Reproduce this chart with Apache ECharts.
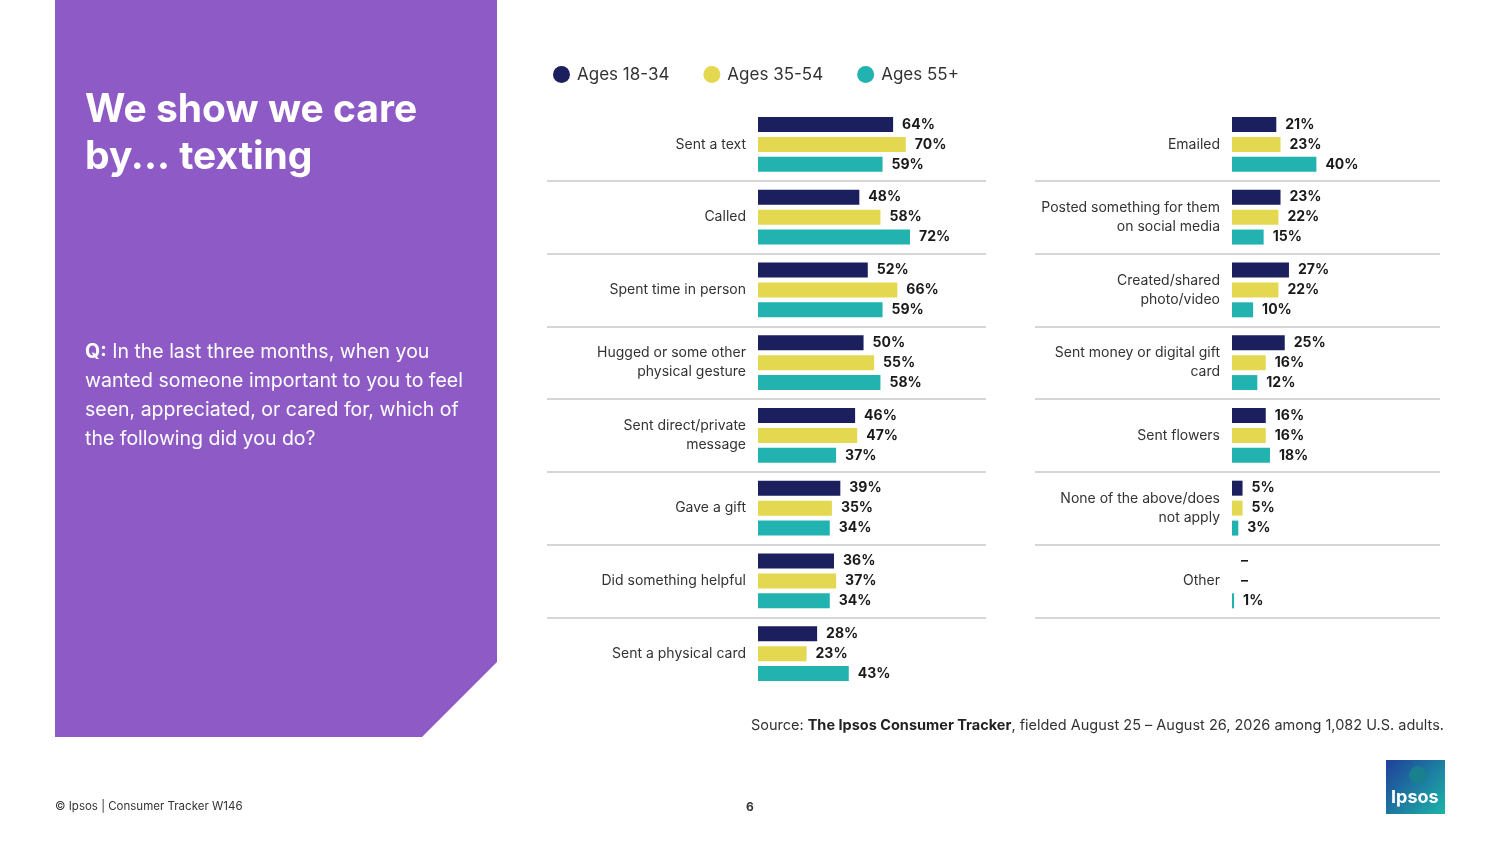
<!DOCTYPE html>
<html><head><meta charset="utf-8">
<script src="https://cdn.jsdelivr.net/npm/echarts@6/dist/echarts.min.js"></script>
<style>html,body{margin:0;background:#fff}#c{width:1500px;height:844px}</style></head>
<body><div id="c"></div>
<script>
const leftCats = ['Sent a text','Called','Spent time in person','Hugged or some other\nphysical gesture','Sent direct/private\nmessage','Gave a gift','Did something helpful','Sent a physical card'];
const leftA = [64,48,52,50,46,39,36,28];
const leftB = [70,58,66,55,47,35,37,23];
const leftC = [59,72,59,58,37,34,34,43];
const rightCats = ['Emailed','Posted something for them\non social media','Created/shared\nphoto/video','Sent money or digital gift\ncard','Sent flowers','None of the above/does\nnot apply','Other',''];
const rightA = [21,23,27,25,16,5,'NA',null];
const rightB = [23,22,22,16,16,5,'NA',null];
const rightC = [40,15,10,12,18,3,1,null];
const seriesNames = ['Ages 18-34','Ages 35-54','Ages 55+'];
const colors = ['#1b1f5e','#e3d84f','#22b3b0'];

const FONT = 'Inter, "Noto Sans", sans-serif';
function mk(v){ if(v==='NA') return {value:0, na:true}; return v; }
function series(name, data, idx, color){
  return {name, type:'bar', xAxisIndex:idx, yAxisIndex:idx, data:data.map(mk), barWidth:15, barGap:'33%',
    itemStyle:{color},
    label:{show:true, position:'right', distance:9, fontFamily:FONT, fontWeight:'bold', fontSize:14, color:'#1a1a1a',
      formatter:p=> (p.data && p.data.na) ? '–' : p.value+'%'}};
}
function barY(grid, data){
  return {type:'category', gridIndex:grid, data, inverse:true, axisTick:{show:false}, axisLine:{show:false},
    axisLabel:{fontFamily:FONT, fontSize:14, color:'#333', margin:12, lineHeight:19}, splitLine:{show:false}};
}
function sepY(grid, data){
  return {type:'category', gridIndex:grid, data, inverse:true, axisTick:{show:false}, axisLine:{show:false}, axisLabel:{show:false},
    splitLine:{show:true, showMinLine:false, showMaxLine:false, lineStyle:{color:'#c8c8c8', width:1.5}}};
}
const chart = echarts.init(document.getElementById('c'));
chart.setOption({
  animation:false,
  legend:{top:61, left:548, itemWidth:17, itemHeight:17, itemGap:34, icon:'circle',
    textStyle:{fontFamily:FONT, fontSize:17, color:'#333', padding:[0,0,0,2]}, data:seriesNames},
  grid:[{left:758, width:228, top:108, height:582},{left:1232, width:208, top:108, height:582},
        {left:547, width:439, top:108, height:582},{left:1035, width:405, top:108, height:582}],
  xAxis:[{type:'value', gridIndex:0, min:0, max:108, show:false},{type:'value', gridIndex:1, min:0, max:98.6, show:false},
         {type:'value', gridIndex:2, show:false},{type:'value', gridIndex:3, show:false}],
  yAxis:[barY(0,leftCats), barY(1,rightCats), sepY(2,leftCats), sepY(3,rightCats)],
  series:[series(seriesNames[0],leftA,0,colors[0]),series(seriesNames[1],leftB,0,colors[1]),series(seriesNames[2],leftC,0,colors[2]),
    series(seriesNames[0],rightA,1,colors[0]),series(seriesNames[1],rightB,1,colors[1]),series(seriesNames[2],rightC,1,colors[2])],
  graphic:[
    {type:'polygon', shape:{points:[[55,0],[497,0],[497,662],[422,737],[55,737]]}, style:{fill:'#8e5bc6'}, z:-1},
    {type:'text', left:85, top:87, style:{text:'We show we care\nby... texting', fill:'#fff', font:'bold 39px '+FONT, lineHeight:47}},
    {type:'text', left:85, top:338, style:{text:'{b|Q:} In the last three months, when you\nwanted someone important to you to feel\nseen, appreciated, or cared for, which of\nthe following did you do?',
      fill:'#fff', font:'19.5px '+FONT, lineHeight:29, rich:{b:{fontWeight:'bold', fontSize:19.5, fill:'#fff', fontFamily:FONT}}}},
    {type:'text', right:56, top:718, style:{text:'Source: {b|The Ipsos Consumer Tracker}, fielded August 25 – August 26, 2026 among 1,082 U.S. adults.',
      fill:'#333', font:'14.5px '+FONT, rich:{b:{fontWeight:'bold', fontSize:14.5, fill:'#222', fontFamily:FONT}}}},
    {type:'text', left:55, top:801, style:{text:'© Ipsos | Consumer Tracker W146', fill:'#333', font:'11.5px '+FONT}},
    {type:'text', left:746, top:801, style:{text:'6', fill:'#333', font:'bold 12px '+FONT}},
    {type:'rect', shape:{x:1386, y:760, width:59, height:54}, style:{fill:new echarts.graphic.LinearGradient(0,0,1,1,[{offset:0,color:'#1f3f9a'},{offset:1,color:'#1cb5a8'}])}},
    {type:'circle', shape:{cx:1418, cy:775, r:9}, style:{fill:'#1a7f8e'}},
    {type:'text', left:1391, top:789, style:{text:'Ipsos', fill:'#fff', font:'bold 18px '+FONT}}
  ]
});
</script></body></html>
